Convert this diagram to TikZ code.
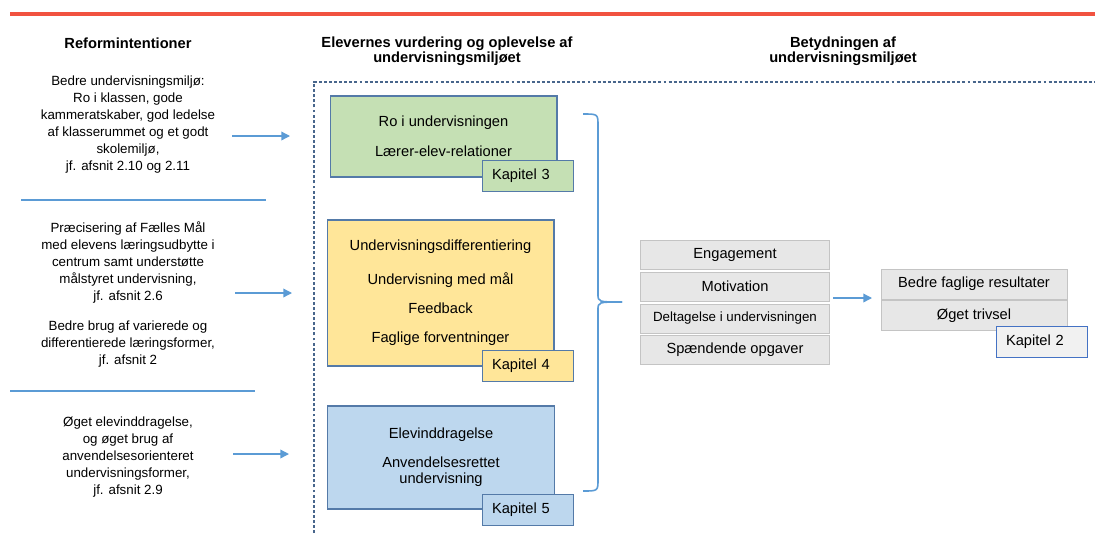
\documentclass[tikz,border=0pt]{standalone}
\usepackage{fontspec}
\setmainfont{Liberation Sans}
\usetikzlibrary{arrows.meta, positioning}
\definecolor{rapportrod}{RGB}{241,82,64}
\definecolor{pilblaa}{RGB}{91,155,213}
\definecolor{kantblaa}{RGB}{84,122,168}
\definecolor{stiplet}{RGB}{72,102,140}
\definecolor{lysgron}{RGB}{197,224,180}
\definecolor{lysgul}{RGB}{255,230,153}
\definecolor{lysblaa}{RGB}{189,215,238}
\definecolor{lysgraa}{RGB}{231,231,231}
\definecolor{graakant}{RGB}{196,196,196}
\definecolor{kapkant}{RGB}{68,114,196}

\begin{document}
\begin{tikzpicture}[x=0.75pt, y=-0.75pt,
    overskrift/.style={font=\fontsize{11}{11}\selectfont\bfseries, align=center},
    reform/.style={font=\fontsize{10}{12.75}\selectfont, align=center},
    boks/.style={draw=kantblaa, line width=1pt, minimum width=170pt,
                 font=\fontsize{11}{12}\selectfont, align=center},
    kapitel/.style={draw=kantblaa, line width=1pt, text width=54pt, inner xsep=7pt,
                    minimum height=23.25pt, anchor=north west,
                    font=\fontsize{11}{12}\selectfont, align=left},
    faktor/.style={draw=graakant, fill=lysgraa, minimum width=141.75pt,
                   minimum height=21.75pt, font=\fontsize{11}{12}\selectfont},
    pil/.style={-{Triangle[length=6.5pt, width=6.5pt]}, pilblaa, line width=1pt},
    skille/.style={pilblaa, line width=1.2pt}
  ]
    \useasboundingbox (0,0) rectangle (1095,533);

    % Rod linje
    \draw[rapportrod, line width=3pt] (10,14) -- (1095,14);

    % Overskrifter
    \node[overskrift] (hReform) at (128,43) {Reformintentioner};
    \node[overskrift] (hElever) at (447,51)
      {Elevernes vurdering og oplevelse af\\undervisningsmiljøet};
    \node[overskrift] (hBetyd) at (843,51)
      {Betydningen af\\undervisningsmiljøet};

    % Reformintentioner
    \node[reform] (r1) at (128,125)
      {Bedre undervisningsmiljø:\\Ro i klassen, gode\\kammeratskaber, god ledelse\\
       af klasserummet og et godt\\skolemiljø,\\jf. afsnit 2.10 og 2.11};
    \node[reform] (r2) at (128,294)
      {Præcisering af Fælles Mål\\med elevens læringsudbytte i\\centrum samt understøtte\\
       målstyret undervisning,\\jf. afsnit 2.6\\[9.75pt]
       Bedre brug af varierede og\\differentierede læringsformer,\\jf. afsnit 2};
    \node[reform] (r3) at (128,457)
      {Øget elevinddragelse,\\og øget brug af\\anvendelsesorienteret\\
       undervisningsformer,\\jf. afsnit 2.9};
    \draw[skille] (21,200) -- (266,200);
    \draw[skille] (10,391) -- (255,391);

    % Stiplet ramme
    \draw[stiplet, line width=0.8pt, dash pattern=on 2.2pt off 1.6pt]
      (314,533) -- (314,82) -- (1095,82);

    % Elevernes vurdering
    \node[boks, fill=lysgron, minimum height=60.75pt] (ro) at (443.5,136.5)
      {Ro i undervisningen\\[10.5pt]Lærer-elev-relationer};
    \node[kapitel, fill=lysgron] (kap3) at (482,160) {Kapitel 3};

    \node[boks, fill=lysgul, minimum height=109.5pt] (diff) at (440.5,293)
      {Undervisningsdifferentiering\\[13.5pt]Undervisning med mål\\[9.75pt]
       Feedback\\[9.75pt]Faglige forventninger};
    \node[kapitel, fill=lysgul] (kap4) at (482,350) {Kapitel 4};

    \node[boks, fill=lysblaa, minimum height=77.25pt] (inddrag) at (441,457.5)
      {Elevinddragelse\\[9.75pt]Anvendelsesrettet\\undervisning};
    \node[kapitel, fill=lysblaa] (kap5) at (482,494) {Kapitel 5};

    % Pile ind
    \coordinate (p1) at (232,136);
    \coordinate (q1) at (290,136);
    \coordinate (p2) at (235,293);
    \coordinate (q2) at (292,293);
    \coordinate (p3) at (233,454);
    \coordinate (q3) at (289,454);
    \draw[pil] (p1) -- (q1);
    \draw[pil] (p2) -- (q2);
    \draw[pil] (p3) -- (q3);

    % Tuborgklamme
    \draw[pilblaa, line width=1.2pt]
      (583,114) .. controls (598,114) .. (598,126) -- (598,294)
      .. controls (598,302) .. (622,302);
    \draw[pilblaa, line width=1.2pt]
      (622,302) .. controls (598,302) .. (598,310) -- (598,479)
      .. controls (598,491) .. (583,491);

    % Betydning
    \node[faktor] (engage) at (735,254.5) {Engagement};
    \node[faktor] (motiv) at (735,286.5) {Motivation};
    \node[faktor, font=\fontsize{10}{12}\selectfont] (deltag) at (735,318.5)
      {Deltagelse i undervisningen};
    \node[faktor] (opgave) at (735,349.5) {Spændende opgaver};

    \coordinate (p4) at (833,298);
    \coordinate (q4) at (872,298);
    \draw[pil] (p4) -- (q4);

    \node[faktor, minimum width=139.5pt, minimum height=22.5pt] (faglig) at (974,284)
      {Bedre faglige resultater};
    \node[faktor, minimum width=139.5pt, minimum height=22.5pt] (trivsel) at (974,315.5)
      {Øget trivsel};
    \node[kapitel, draw=kapkant, fill=lysgraa!60] (kap2) at (996,326) {Kapitel 2};
\end{tikzpicture}
\end{document}
